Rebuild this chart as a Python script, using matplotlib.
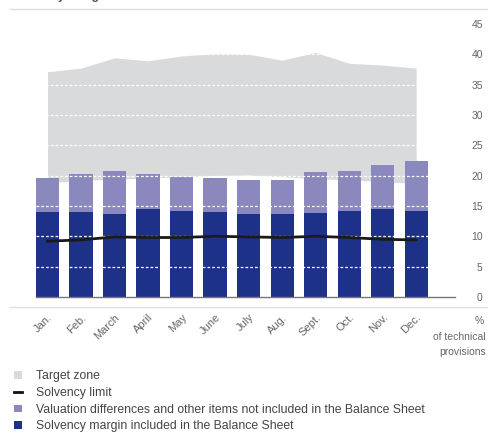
import numpy as np
import matplotlib.pyplot as plt
from matplotlib.patches import Patch
from matplotlib.lines import Line2D

plt.rcParams['font.family'] = ['Liberation Sans', 'DejaVu Sans']

months = ['Jan.', 'Feb.', 'March', 'April', 'May', 'June', 'July', 'Aug.',
          'Sept.', 'Oct.', 'Nov.', 'Dec.']

# % of technical provisions
margin_in_bs = [14.0, 14.0, 13.7, 14.5, 14.2, 14.0, 13.7, 13.7, 13.8, 14.2, 14.5, 14.2]
margin_total = [19.6, 20.3, 20.8, 20.3, 19.8, 19.6, 19.3, 19.3, 20.6, 20.8, 21.7, 22.4]
target_low = [18.8, 19.2, 19.4, 19.6, 19.8, 20.0, 20.1, 19.8, 19.5, 19.3, 19.0, 18.7]
target_high = [37.1, 37.7, 39.4, 38.9, 39.7, 40.1, 40.0, 39.0, 40.3, 38.5, 38.2, 37.7]
solvency_limit = [9.2, 9.4, 9.9, 9.8, 9.8, 10.0, 9.9, 9.8, 10.0, 9.8, 9.5, 9.4]
yticks = [0, 5, 10, 15, 20, 25, 30, 35, 40, 45]

dark_blue = '#1e3189'
purple = '#8b88be'
zone_grey = '#d9dadc'
txt = '#555555'

x = np.arange(len(months))
valuation = np.array(margin_total) - np.array(margin_in_bs)

fig = plt.figure(figsize=(4.88, 4.34), dpi=100)
ax = fig.add_axes([36 / 488, 1 - 297 / 434, 419 / 488, 273.2 / 434])

ax.fill_between(x, target_low, target_high, color=zone_grey, lw=0, zorder=1)
ax.bar(x, margin_in_bs, width=0.69, color=dark_blue, zorder=2)
ax.bar(x, valuation, width=0.69, bottom=margin_in_bs, color=purple, zorder=2)
for yv in yticks[1:-1]:
    ax.axhline(yv, color='white', lw=0.9, ls=(0, (2.2, 1.6)), zorder=3)
ax.plot(x, solvency_limit, color='#1a1a1a', lw=2, zorder=4)

ax.set_xlim(-0.343, 12.16)
ax.set_ylim(0, 45)
ax.set_yticks(yticks)
ax.yaxis.tick_right()
ax.tick_params(axis='y', length=0, pad=20, labelsize=7.5, labelcolor='#666666')
for lab in ax.get_yticklabels():
    lab.set_horizontalalignment('right')
ax.set_xticks(x)
ax.set_xticklabels(months, rotation=45, ha='right', va='top',
                   rotation_mode='anchor', fontsize=8, color='#666666')
ax.tick_params(axis='x', length=0, pad=11)

for s in ['top', 'left', 'right']:
    ax.spines[s].set_visible(False)
ax.spines['bottom'].set_color('#777777')
ax.spines['bottom'].set_linewidth(1.0)
ax.set_facecolor('none')

# thin rules above and below the plot
fig.add_artist(Line2D([10 / 488, 1], [1 - 9 / 434] * 2, color='#e3dfd7', lw=1))
fig.add_artist(Line2D([10 / 488, 1], [1 - 307 / 434] * 2, color='#e3dfd7', lw=1))

# heading sits mostly above the top edge
fig.text(10 / 488, 1 + 0.5 / 434, 'Solvency margin', fontsize=9, fontweight='bold',
         color=txt, va='baseline')

fig.text(484 / 488, 1 - 321 / 434, '%', fontsize=7.5, color='#666666',
         ha='right', va='center')
fig.text(486 / 488, 1 - 337 / 434, 'of technical', fontsize=7.5, color='#666666',
         ha='right', va='center')
fig.text(486 / 488, 1 - 352 / 434, 'provisions', fontsize=7.5, color='#666666',
         ha='right', va='center')

handles = [
    Patch(facecolor=zone_grey, edgecolor='none'),
    Line2D([], [], color='#111111', lw=2),
    Patch(facecolor=purple, edgecolor='none'),
    Patch(facecolor=dark_blue, edgecolor='none'),
]
labels = [
    'Target zone',
    'Solvency limit',
    'Valuation differences and other items not included in the Balance Sheet',
    'Solvency margin included in the Balance Sheet',
]
fig.legend(handles, labels, loc='upper left', bbox_to_anchor=(12 / 488, 1 - 368 / 434),
           frameon=False, fontsize=8.8, handlelength=0.6, handleheight=0.6,
           handletextpad=1.15, labelspacing=0.38, labelcolor='#444444',
           borderaxespad=0, borderpad=0.2)

fig.savefig('out.png', dpi=100)
